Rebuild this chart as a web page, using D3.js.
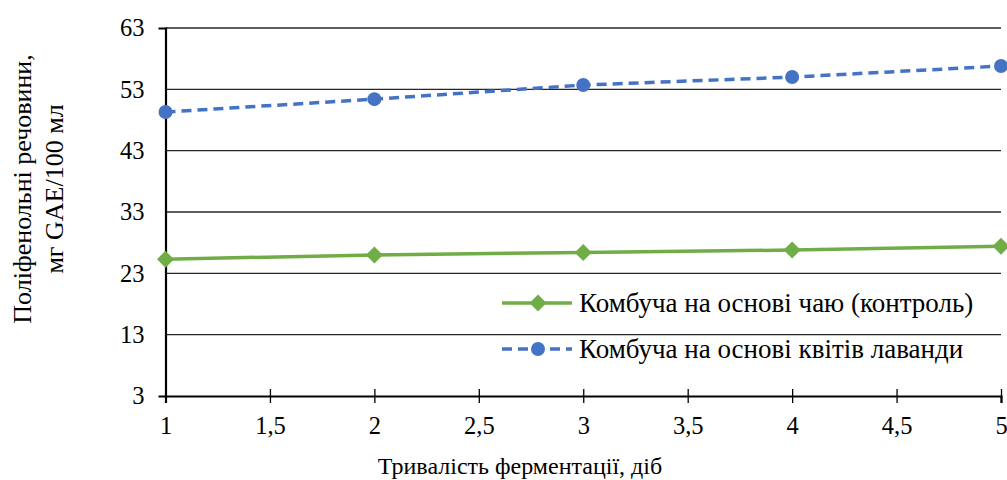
<!DOCTYPE html>
<html>
<head>
<meta charset="utf-8">
<script src="https://cdn.jsdelivr.net/npm/d3@7"></script>
<style>
body{margin:0;background:#fff}
</style>
</head>
<body>
<svg></svg>
<script>
var days = [1,2,3,4,5]
var teaValues = [25.3,26.0,26.4,26.8,27.4]
var lavenderValues = [49.3,51.4,53.7,55.0,56.8]
var yTicks = [3,13,23,33,43,53,63]
var xTicks = [1,1.5,2,2.5,3,3.5,4,4.5,5]
var seriesNames = ["Комбуча на основі чаю (контроль)","Комбуча на основі квітів лаванди"]

var screen = {width:1007,height:480}
var margins = {top:28,right:6,left:165.5,bottom:84}
var serif = "'Liberation Serif'"

var width = screen.width - margins.left - margins.right
var height = screen.height - margins.top - margins.bottom

var svg = d3.select("svg")
    .attr("width",screen.width)
    .attr("height",screen.height)

var graph = svg.append("g")
    .attr("transform","translate("+margins.left+","+margins.top+")")

var xScale = d3.scaleLinear().domain([1,5]).range([0,width])
var yScale = d3.scaleLinear().domain([3,63]).range([height,0])

//gridlines
graph.selectAll(".grid")
    .data(yTicks.slice(1))
    .enter()
    .append("line")
    .attr("x1",0)
    .attr("x2",width)
    .attr("y1",function(d){return yScale(d)})
    .attr("y2",function(d){return yScale(d)})
    .attr("stroke","#262626")
    .attr("stroke-width",1.3)

var comma = function(d){return String(d).replace(".",",")}

var yAxis = d3.axisLeft(yScale).tickValues(yTicks).tickSize(7).tickPadding(14).tickFormat(comma)
var xAxis = d3.axisBottom(xScale).tickValues(xTicks).tickSize(7).tickPadding(14).tickFormat(comma)

var yG = graph.append("g").call(yAxis)
var xG = graph.append("g").attr("transform","translate(0,"+height+")").call(xAxis)

// ticks cross the axis line
xG.selectAll(".tick line").attr("y1",-7)
yG.selectAll(".tick line").attr("x2",0)

;[xG,yG].forEach(function(g){
    g.select(".domain").attr("stroke","#000").attr("stroke-width",2.2)
    g.selectAll(".tick line").attr("stroke","#000").attr("stroke-width",1.3)
    g.selectAll(".tick text")
        .attr("fill","#000")
        .style("font-family",serif)
        .style("font-size","24.5px")
})

var line = d3.line()
    .x(function(d,i){return xScale(days[i])})
    .y(function(d){return yScale(d)})

graph.append("path")
    .datum(teaValues)
    .attr("d",line)
    .attr("fill","none")
    .attr("stroke","#70AD47")
    .attr("stroke-width",3.5)

graph.append("path")
    .datum(lavenderValues)
    .attr("d",line)
    .attr("fill","none")
    .attr("stroke","#4472C4")
    .attr("stroke-width",3.5)
    .attr("stroke-dasharray","10,6")

graph.selectAll(".tea")
    .data(teaValues)
    .enter()
    .append("rect")
    .attr("x",-6).attr("y",-6).attr("width",12).attr("height",12)
    .attr("transform",function(d,i){return "translate("+xScale(days[i])+","+yScale(d)+") rotate(45)"})
    .attr("fill","#70AD47")

graph.selectAll(".lav")
    .data(lavenderValues)
    .enter()
    .append("circle")
    .attr("cx",function(d,i){return xScale(days[i])})
    .attr("cy",function(d){return yScale(d)})
    .attr("r",7)
    .attr("fill","#4472C4")

//legend
var legend = svg.append("g").attr("transform","translate(502,0)")
var rowsY = [303,349]
legend.append("line").attr("x1",0).attr("x2",70).attr("y1",rowsY[0]).attr("y2",rowsY[0])
    .attr("stroke","#70AD47").attr("stroke-width",3.5)
legend.append("rect").attr("x",-6).attr("y",-6).attr("width",12).attr("height",12)
    .attr("transform","translate(36,"+rowsY[0]+") rotate(45)").attr("fill","#70AD47")
legend.append("line").attr("x1",0).attr("x2",70).attr("y1",rowsY[1]).attr("y2",rowsY[1])
    .attr("stroke","#4472C4").attr("stroke-width",3.5).attr("stroke-dasharray","10,6")
legend.append("circle").attr("cx",36).attr("cy",rowsY[1]).attr("r",7).attr("fill","#4472C4")

legend.selectAll(".lt")
    .data(seriesNames)
    .enter()
    .append("text")
    .attr("x",77)
    .attr("y",function(d,i){return rowsY[i]})
    .attr("dy","0.35em")
    .style("font-family",serif)
    .style("font-size","27px")
    .text(function(d){return d})

//axis titles
svg.append("text")
    .attr("x",520)
    .attr("y",474)
    .attr("text-anchor","middle")
    .style("font-family",serif)
    .style("font-size","24px")
    .text("Тривалість ферментації, діб")

var yTitle = svg.append("text")
    .attr("transform","translate(0,189) rotate(-90)")
    .attr("text-anchor","middle")
    .style("font-family",serif)
    .style("font-size","26px")
yTitle.append("tspan").attr("x",0).attr("y",31).text("Поліфенольні речовини,")
yTitle.append("tspan").attr("x",0).attr("y",63).text("мг GAE/100 мл")
</script>
</body>
</html>
